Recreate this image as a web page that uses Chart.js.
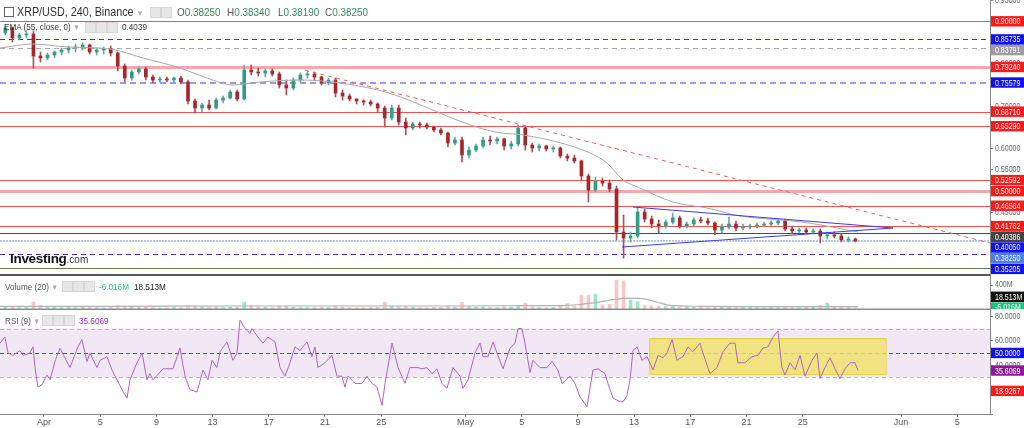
<!DOCTYPE html>
<html>
<head>
<meta charset="utf-8">
<script src="https://cdn.jsdelivr.net/npm/chart.js@4.4.1/dist/chart.umd.min.js"></script>
<style>
  body { margin: 0; background: #fff; overflow: hidden; }
  #wrap { position: relative; width: 1024px; height: 428px; }
  canvas { position: absolute; left: 0; top: 0; }
  .t { position: absolute; white-space: nowrap; font-family: "Liberation Sans", Arial, sans-serif;
       transform: scaleX(.86); transform-origin: 0 0; color: #333; line-height: 1; }
  .ic { position: absolute; width: 9px; height: 9px; background: #e6e6e6; border: 1px solid #d6d6d6; }
  .k { color: #555; }
  .v { color: #3b8a5c; }
  .dd { color: #aaa; font-size: 8px; }
</style>
</head>
<body>
<div id="wrap">
  <canvas id="c" width="1024" height="428"></canvas>

  <div class="ic" style="left:4px;top:7px;width:8px;height:8px;background:#fff;border:1px solid #666"></div>
  <div class="t" style="left:17px;top:6px;font-size:12.5px">XRP/USD, 240, Binance <span class="dd">▼</span></div>
  <div class="ic" style="left:150px;top:7px"></div>
  <div class="ic" style="left:161px;top:7px"></div>
  <div class="t" style="left:177px;top:7px;font-size:11.5px"><span class="k">O</span><span class="v">0.38250</span></div>
  <div class="t" style="left:227px;top:7px;font-size:11.5px"><span class="k">H</span><span class="v">0.38340</span></div>
  <div class="t" style="left:278px;top:7px;font-size:11.5px"><span class="k">L</span><span class="v">0.38190</span></div>
  <div class="t" style="left:325px;top:7px;font-size:11.5px"><span class="k">C</span><span class="v">0.38250</span></div>

  <div class="t" style="left:4px;top:22px;font-size:9.5px">EMA (55, close, 0) <span class="dd">▼</span></div>
  <div class="ic" style="left:85px;top:22px"></div>
  <div class="ic" style="left:96px;top:22px"></div>
  <div class="ic" style="left:107px;top:22px"></div>
  <div class="t" style="left:122px;top:22px;font-size:9.5px">0.4039</div>

  <div class="t" style="left:10px;top:252px;font-size:13.5px;font-weight:bold;color:#111;transform:none;letter-spacing:-0.3px">Investing<span style="font-weight:normal;font-size:10px;color:#333;letter-spacing:0">.com</span></div>

  <div class="t" style="left:5px;top:282px;font-size:9.5px;color:#555">Volume (20) <span class="dd">▼</span></div>
  <div class="ic" style="left:62px;top:281px"></div>
  <div class="ic" style="left:73px;top:281px"></div>
  <div class="ic" style="left:84px;top:281px"></div>
  <div class="t" style="left:99px;top:282px;font-size:9.5px;color:#22c27a">-6.016M</div>
  <div class="t" style="left:134px;top:282px;font-size:9.5px;color:#222">18.513M</div>

  <div class="t" style="left:5px;top:316px;font-size:9.5px;color:#555">RSI (9) <span class="dd">▼</span></div>
  <div class="ic" style="left:42px;top:315px"></div>
  <div class="ic" style="left:53px;top:315px"></div>
  <div class="ic" style="left:64px;top:315px"></div>
  <div class="t" style="left:79px;top:316px;font-size:9.5px;color:#9c2fb2">35.6069</div>
</div>

<script>
// 12h candles from 29 Mar, days counted from 1 Apr 00:00
const firstDay = -3;
const candleStep = 0.5;

const opens = [.8725,.8842,.8607,.8678,.8701,.8183,.8136,.8206,.8277,.8324,
  .8371,.8395,.8442,.8277,.8324,.8348,.8254,.7947,.7665,.7806,
  .7877,.7688,.7617,.7641,.7617,.7665,.7570,.7123,.6958,.7028,
  .6958,.7146,.7193,.7335,.7170,.7853,.7806,.7782,.7830,.7759,
  .7500,.7429,.7617,.7735,.7759,.7688,.7547,.7617,.7311,.7240,
  .7170,.7123,.7099,.7052,.6958,.6722,.6958,.6628,.6487,.6581,
  .6557,.6510,.6440,.6369,.6133,.6204,.5851,.5969,.6063,.6204,
  .6180,.6228,.6063,.6110,.6487,.6086,.6016,.6063,.5992,.6016,
  .5827,.5780,.5709,.5356,.5026,.5238,.5191,.5050,.4037,.3895,
  .3943,.4508,.4343,.4225,.4178,.4272,.4367,.4178,.4225,.4319,
  .4296,.4249,.4084,.4155,.4225,.4131,.4155,.4178,.4202,.4225,
  .4249,.4296,.4108,.4061,.4084,.4037,.4061,.3943,.3966,.3943,
  .3848,.3872];
const highs = [.8890,.8866,.8725,.8772,.8772,.8277,.8254,.8301,.8371,.8418,
  .8466,.8489,.8466,.8371,.8395,.8418,.8277,.7994,.7853,.7924,
  .7924,.7735,.7688,.7688,.7688,.7712,.7617,.7170,.7076,.7146,
  .7193,.7240,.7382,.7382,.7971,.7971,.7900,.7877,.7877,.7806,
  .7617,.7665,.7782,.7830,.7806,.7712,.7665,.7665,.7382,.7288,
  .7170,.7146,.7146,.7076,.7005,.7028,.7028,.6722,.6628,.6628,
  .6605,.6534,.6487,.6393,.6275,.6275,.6039,.6110,.6275,.6298,
  .6275,.6251,.6180,.6557,.6534,.6133,.6110,.6086,.6063,.6039,
  .5874,.5851,.5733,.5403,.5332,.5309,.5262,.5120,.4437,.4037,
  .4626,.4579,.4414,.4319,.4319,.4484,.4414,.4272,.4367,.4390,
  .4367,.4272,.4225,.4390,.4296,.4225,.4225,.4249,.4272,.4296,
  .4343,.4343,.4178,.4131,.4131,.4108,.4108,.4037,.4037,.3990,
  .3919,.3895];
const lows = [.8678,.8513,.8560,.8607,.7900,.8041,.8089,.8136,.8206,.8254,
  .8277,.8324,.8230,.8206,.8230,.8183,.7830,.7570,.7617,.7759,
  .7617,.7547,.7570,.7570,.7570,.7523,.7052,.6840,.6864,.6911,
  .6934,.7076,.7170,.7123,.7146,.7735,.7712,.7688,.7712,.7429,
  .7264,.7382,.7570,.7665,.7617,.7500,.7500,.7217,.7146,.7123,
  .7052,.7028,.7005,.6864,.6510,.6675,.6557,.6322,.6440,.6487,
  .6463,.6393,.6322,.6039,.6086,.5686,.5780,.5921,.6016,.6086,
  .6110,.5969,.5992,.6063,.5969,.5921,.5945,.5945,.5921,.5780,
  .5709,.5662,.5262,.4743,.4979,.5120,.4979,.3848,.3424,.3801,
  .3895,.4272,.4131,.4013,.4131,.4225,.4131,.4131,.4178,.4249,
  .4202,.3966,.4013,.4108,.4061,.4084,.4108,.4131,.4155,.4178,
  .4202,.4061,.3990,.4013,.4013,.3990,.3778,.3872,.3895,.3801,
  .3801,.3801];
const closes = [.8842,.8607,.8678,.8701,.8183,.8136,.8206,.8277,.8324,.8371,
  .8395,.8442,.8277,.8324,.8348,.8254,.7947,.7665,.7806,.7877,
  .7688,.7617,.7641,.7617,.7665,.7570,.7123,.6958,.7028,.6958,
  .7146,.7193,.7335,.7170,.7853,.7806,.7782,.7830,.7759,.7500,
  .7429,.7617,.7735,.7759,.7688,.7547,.7617,.7311,.7240,.7170,
  .7123,.7099,.7052,.6958,.6722,.6958,.6628,.6487,.6581,.6557,
  .6510,.6440,.6369,.6133,.6204,.5851,.5969,.6063,.6204,.6180,
  .6228,.6063,.6110,.6487,.6086,.6016,.6063,.5992,.6016,.5827,
  .5780,.5709,.5356,.5026,.5238,.5191,.5050,.4037,.3895,.3943,
  .4508,.4343,.4225,.4178,.4272,.4367,.4178,.4225,.4319,.4296,
  .4249,.4084,.4155,.4225,.4131,.4155,.4178,.4202,.4225,.4249,
  .4296,.4108,.4061,.4084,.4037,.4061,.3943,.3966,.3943,.3848,
  .3872,.3825];
// volume in millions
const volumes = [30,35,25,30,117,60,35,30,25,30,
  25,30,40,25,20,30,55,45,35,25,
  30,25,20,20,25,25,50,45,35,30,
  30,25,30,30,115,55,35,30,25,45,
  40,30,25,25,20,30,25,45,30,25,
  20,20,25,30,115,50,40,45,30,25,
  20,25,30,45,30,110,40,30,35,25,
  20,35,30,60,100,35,25,20,25,45,
  90,50,230,230,250,70,80,480,470,150,
  120,60,50,45,40,55,35,30,35,25,
  25,40,30,35,30,25,25,20,20,25,
  25,45,35,25,30,30,60,100,40,35,
  25,18.5];
const volMaDays = [-3.13,3.99,14.31,23.91,30.32,36.73,38.15,39.57,40.64,41.71,42.78,43.84,44.56,46.69,50.96,57.94];
const volMa = [45,45,50,50,50,55,75,120,160,180,165,100,60,45,40,38];
const volTicks = [200, 400];

const emaDays = [-3.13,-0.78,1.64,4.70,7.05,9.68,11.60,13.45,15.37,18.22,20.57,23.77,24.98,27.33,
  29.75,32.10,34.09,36.51,38.86,40.07,41.21,42.42,44.77,47.19,49.54,53.95,57.94];
const emaPrices = [.8371,.8466,.8395,.8348,.8136,.7900,.7665,.7500,.7570,.7617,.7570,.7382,.7264,.6958,
  .6628,.6393,.6322,.6157,.5898,.5662,.5262,.5073,.4743,.4602,.4414,.4272,.40386];

const rsiDays = [-3.13,-2.78,-2.56,-2.21,-1.71,-1.49,-1.00,-0.78,-0.64,-0.43,-0.14,0.21,0.43,0.78,1.14,1.49,1.85,
  2.42,2.70,3.06,3.27,3.77,3.99,4.48,4.84,5.20,5.55,5.91,6.12,6.62,6.98,7.33,7.54,7.76,8.47,9.18,9.68,
  10.04,10.39,10.89,11.32,11.67,11.96,12.31,12.53,13.02,13.45,13.74,13.95,14.31,14.66,
  14.80,15.23,15.59,15.94,16.44,16.80,17.15,17.51,17.86,18.22,18.72,19.07,19.29,19.50,20.00,20.50,20.85,
  21.21,21.42,21.64,22.14,22.63,22.99,23.35,23.70,24.06,24.27,24.77,25.20,25.69,26.05,26.62,26.90,27.26,
  27.62,27.97,28.33,28.68,29.11,29.61,29.82,30.18,30.68,31.03,31.25,31.60,31.96,
  32.24,32.67,33.17,33.52,33.74,34.02,34.23,34.59,34.80,35.30,35.80,36.16,36.58,36.87,37.44,37.79,38.15,
  38.65,39.07,39.43,39.93,40.14,40.50,41.00,41.21,41.49,41.71,41.92,42.21,42.56,42.92,43.35,43.70,44.06,
  44.34,44.70,45.05,45.48,45.84,46.19,46.69,46.90,47.40,47.90,48.33,48.82,49.18,49.39,
  49.89,50.39,50.82,51.17,51.53,51.88,52.24,52.52,52.74,53.10,53.45,53.81,54.16,54.66,55.02,55.23,55.59,
  55.94,56.30,56.65,57.01,57.37,57.72,57.94];
const rsiValues = [58,63,50,48,52,48,50,55,38,22,24,32,28,43,54,46,38,
  55,61,43,50,38,44,47,36,28,20,13,28,42,50,28,33,28,37,37,54,
  31,20,18,36,28,44,38,51,59,44,50,77,70,66,
  70,63,58,63,59,38,31,42,55,52,59,47,55,38,42,48,31,
  31,22,31,25,25,31,25,22,7,25,58,38,25,38,38,37,38,
  33,37,25,21,38,31,21,28,50,58,47,47,59,
  50,37,54,58,70,70,58,34,44,38,38,43,36,25,31,25,14,
  6,36,37,33,25,13,10,10,15,28,52,55,44,47,36,48,46,
  50,61,44,47,55,51,58,50,33,38,51,58,58,42,
  42,47,48,54,55,63,68,38,32,42,36,48,31,44,50,29,38,
  46,37,29,37,42,42,35.6069];

// drawn levels and studies
const levelPrices = [0.9, 0.85735, 0.83791, 0.7924, 0.75579, 0.6871, 0.6529, 0.52592, 0.5, 0.46564, 0.41762, 0.4005, 0.3825, 0.35205, 0.318];
const tagPrices = [0.9, 0.85735, 0.83791, 0.7924, 0.75579, 0.6871, 0.6529, 0.52592, 0.5, 0.46564, 0.41762, 0.40386, 0.4005, 0.3825, 0.35205];
const trendDays = [18.58, 67.33];
const trendPrices = [0.7848, 0.3778];
const triUpperDays = [41.92, 60.43];
const triUpperPrices = [0.4626, 0.4131];
const triLowerDays = [41.14, 60.43];
const triLowerPrices = [0.3683, 0.4131];
const rsiBand = [30, 70];
const rsiMid = 50;
const rsiTags = [50, 35.6069, 18.9267];
const boxDays = [43.08, 59.9];
const boxRsi = [32.7, 62.1];
const volTags = ['18.513M', '-6.016M'];

const tickDays = [0, 4, 8, 12, 16, 20, 24, 30, 34, 38, 42, 46, 50, 54, 61, 65];
const tickNames = ['Apr', '5', '9', '13', '17', '21', '25', 'May', '5', '9', '13', '17', '21', '25', 'Jun', '5'];

// styles
const RED = '#f05252';
const levelStyles = [
  { c: RED, w: 1 }, { c: '#3232f0', w: 1, d: [5, 4] }, { c: '#aaaaaa', w: 1, d: [5, 4] },
  { c: '#f8a6a6', w: 3 }, { c: '#9a9af6', w: 2, d: [6, 4] }, { c: RED, w: 1 }, { c: RED, w: 1 },
  { c: RED, w: 1 }, { c: '#f8a6a6', w: 3 }, { c: RED, w: 1 }, { c: RED, w: 1 },
  { c: '#3838e0', w: 1 }, { c: '#b7c6ee', w: 2, d: [2, 1] }, { c: '#3232f0', w: 1, d: [5, 4] },
  { c: '#5d7a4c', w: 1 }
];
const tagColors = ['#ff1a1a', '#1010f5', '#9e9e9e', '#ff1a1a', '#1010f5', '#ff1a1a', '#ff1a1a', '#ff1a1a', '#ff1a1a', '#ff1a1a', '#ff1a1a', '#444444', '#1010f5', '#4f7fe6', '#1010f5'];
const rsiTagColors = ['#1010f5', '#8a1a9a', '#ff1a1a'];
const UP = '#2f9e84', DOWN = '#a3282c';
const FONT = '"Liberation Sans", Arial, sans-serif';

const candleDays = opens.map((_, i) => firstDay + i * candleStep + candleStep / 2);
const isUp = closes.map((c, i) => c >= opens[i]);
const pts = (xs, ys) => xs.map((x, i) => ({ x: x, y: ys[i] }));

function narrow(g, text, x, y, color, size, sx) {
  g.save();
  g.translate(x, y);
  g.scale(sx || 0.78, 1);
  g.font = (size || 9) + 'px ' + FONT;
  g.fillStyle = color;
  g.textBaseline = 'middle';
  g.fillText(text, 0, 0);
  g.restore();
}

function hline(g, x0, x1, y) {
  g.beginPath();
  g.moveTo(x0, y);
  g.lineTo(x1, y);
  g.stroke();
}

function tag(g, x, yc, text, bg) {
  g.fillStyle = bg;
  g.fillRect(x, yc - 5.2, 33, 10.4);
  narrow(g, text, x + 4, yc + 0.5, '#fff');
}

const decor = {
  id: 'decor',
  beforeDatasetsDraw(chart) {
    const g = chart.ctx, a = chart.chartArea;
    const x = chart.scales.x, y = chart.scales.y, r = chart.scales.yr;
    g.save();
    // RSI band
    const b1 = r.getPixelForValue(rsiBand[1]), b0 = r.getPixelForValue(rsiBand[0]);
    g.fillStyle = 'rgba(150, 70, 175, 0.13)';
    g.fillRect(a.left, b1, a.right - a.left, b0 - b1);
    g.lineWidth = 1;
    g.setLineDash([4, 3]);
    g.strokeStyle = '#bdb3bd';
    hline(g, a.left, a.right, Math.round(b1) + 0.5);
    hline(g, a.left, a.right, Math.round(b0) + 0.5);
    g.strokeStyle = '#4646e4';
    hline(g, a.left, a.right, Math.round(r.getPixelForValue(rsiMid)) + 0.5);
    // yellow box
    const bx0 = x.getPixelForValue(boxDays[0]), bx1 = x.getPixelForValue(boxDays[1]);
    const by0 = r.getPixelForValue(boxRsi[1]), by1 = r.getPixelForValue(boxRsi[0]);
    g.setLineDash([]);
    g.fillStyle = 'rgba(242, 226, 110, 0.85)';
    g.fillRect(bx0, by0, bx1 - bx0, by1 - by0);
    g.strokeStyle = '#e6d03c';
    g.strokeRect(bx0 + 0.5, by0 + 0.5, bx1 - bx0, by1 - by0);
    // price levels
    levelPrices.forEach((p, i) => {
      const s = levelStyles[i];
      g.strokeStyle = s.c;
      g.lineWidth = s.w;
      g.setLineDash(s.d || []);
      const py = y.getPixelForValue(p);
      hline(g, a.left, a.right, s.w % 2 ? Math.round(py) + 0.5 : Math.round(py));
    });
    g.restore();
  },
  afterDraw(chart) {
    const g = chart.ctx, a = chart.chartArea;
    const y = chart.scales.y, v = chart.scales.yv, r = chart.scales.yr;
    g.save();
    // panel separators
    g.fillStyle = '#555';
    g.fillRect(0, v.top - 1, a.right, 2);
    g.fillStyle = '#8c8c8c';
    g.fillRect(0, r.top - 0.5, a.right, 1.5);
    // axis tick text
    y.ticks.forEach(t => {
      if (Math.abs(t.value / 0.05 - Math.round(t.value / 0.05)) < 1e-6)
        narrow(g, t.value.toFixed(5), a.right + 5, y.getPixelForValue(t.value), '#666');
    });
    v.ticks.forEach(t => narrow(g, t.value + 'M', a.right + 5, v.getPixelForValue(t.value), '#666'));
    r.ticks.forEach(t => { if (t.value > 0) narrow(g, t.value.toFixed(4), a.right + 5, r.getPixelForValue(t.value), '#666'); });
    // price tags, stacked so they do not overlap
    let prev = -99;
    tagPrices.map((p, i) => ({ p: p, c: tagColors[i], py: y.getPixelForValue(p) }))
      .sort((m, n) => m.py - n.py)
      .forEach(t => {
        const yc = Math.max(t.py, prev + 10.7);
        prev = yc;
        tag(g, a.right + 1, yc, t.p.toFixed(5), t.c);
      });
    // volume tags
    g.save();
    g.beginPath();
    g.rect(a.right, v.top, 40, v.bottom - v.top);
    g.clip();
    tag(g, a.right + 1, v.bottom - 1.5, volTags[1], '#19c37a');
    tag(g, a.right + 1, v.bottom - 12.2, volTags[0], '#111');
    g.restore();
    // rsi tags
    rsiTags.forEach((val, i) => tag(g, a.right + 1, r.getPixelForValue(val), val.toFixed(4), rsiTagColors[i]));
    g.restore();
  }
};

Chart.defaults.font.family = FONT;

new Chart(document.getElementById('c'), {
  type: 'bar',
  data: {
    datasets: [
      { type: 'line', yAxisID: 'y', data: pts(triUpperDays, triUpperPrices), borderColor: '#3b3be8', borderWidth: 1, pointRadius: 0 },
      { type: 'line', yAxisID: 'y', data: pts(triLowerDays, triLowerPrices), borderColor: '#3b3be8', borderWidth: 1, pointRadius: 0 },
      { type: 'line', yAxisID: 'y', data: pts(trendDays, trendPrices), borderColor: '#f06060', borderWidth: 1, borderDash: [4, 4], pointRadius: 0 },
      { type: 'line', yAxisID: 'y', data: pts(emaDays, emaPrices), borderColor: '#a9a9a9', borderWidth: 1, pointRadius: 0, cubicInterpolationMode: 'monotone' },
      { yAxisID: 'y', data: candleDays.map((d, i) => ({ x: d, y: [opens[i], closes[i]] })),
        backgroundColor: isUp.map(u => u ? UP : DOWN), barThickness: 3, minBarLength: 1, grouped: false },
      { yAxisID: 'y', data: candleDays.map((d, i) => ({ x: d, y: [lows[i], highs[i]] })),
        backgroundColor: isUp.map(u => u ? '#6aa898' : '#b05052'), barThickness: 1, grouped: false },
      { type: 'line', yAxisID: 'yv', data: pts(volMaDays, volMa), borderColor: '#b0b0b0', borderWidth: 1.2, pointRadius: 0, cubicInterpolationMode: 'monotone' },
      { yAxisID: 'yv', data: candleDays.map((d, i) => ({ x: d, y: volumes[i] })),
        backgroundColor: isUp.map(u => u ? 'rgba(40,200,140,0.45)' : 'rgba(240,90,90,0.35)'), barThickness: 3, grouped: false },
      { type: 'line', yAxisID: 'yr', data: pts(rsiDays, rsiValues), borderColor: '#b264c6', borderWidth: 1, pointRadius: 0 }
    ]
  },
  options: {
    responsive: false,
    animation: false,
    layout: { padding: 0 },
    plugins: { legend: { display: false }, tooltip: { enabled: false } },
    scales: {
      x: {
        type: 'linear', position: 'bottom', min: -3.13, max: 67.33, offset: false,
        grid: { drawOnChartArea: false, drawTicks: true, tickLength: 3, color: '#888', offset: false },
        border: { color: '#888' },
        afterBuildTicks: s => { s.ticks = tickDays.map(d => ({ value: d })); },
        afterFit: s => { s.height = 14; },
        ticks: {
          autoSkip: false, maxRotation: 0, padding: 0, color: '#555', font: { size: 9 },
          callback: val => tickNames[tickDays.indexOf(val)]
        }
      },
      y: {
        type: 'linear', position: 'right', stack: 'panes', stackWeight: 275,
        min: 0.3024, max: 0.9502,
        ticks: { display: false, stepSize: 0.05, includeBounds: false },
        grid: { drawOnChartArea: false, tickLength: 3, color: '#888' },
        border: { color: '#888' },
        afterFit: s => { s.width = 34; }
      },
      yv: {
        type: 'linear', position: 'right', stack: 'panes', stackWeight: 34,
        min: 0, max: 567,
        ticks: { display: false },
        afterBuildTicks: s => { s.ticks = volTicks.map(t => ({ value: t })); },
        grid: { drawOnChartArea: false, tickLength: 3, color: '#888' },
        border: { color: '#888' },
        afterFit: s => { s.width = 34; }
      },
      yr: {
        type: 'linear', position: 'right', stack: 'panes', stackWeight: 105,
        min: 0, max: 86,
        ticks: { display: false, stepSize: 20, includeBounds: false },
        grid: { drawOnChartArea: false, tickLength: 3, color: '#888' },
        border: { color: '#888' },
        afterFit: s => { s.width = 34; }
      }
    }
  },
  plugins: [decor]
});
</script>
</body>
</html>
